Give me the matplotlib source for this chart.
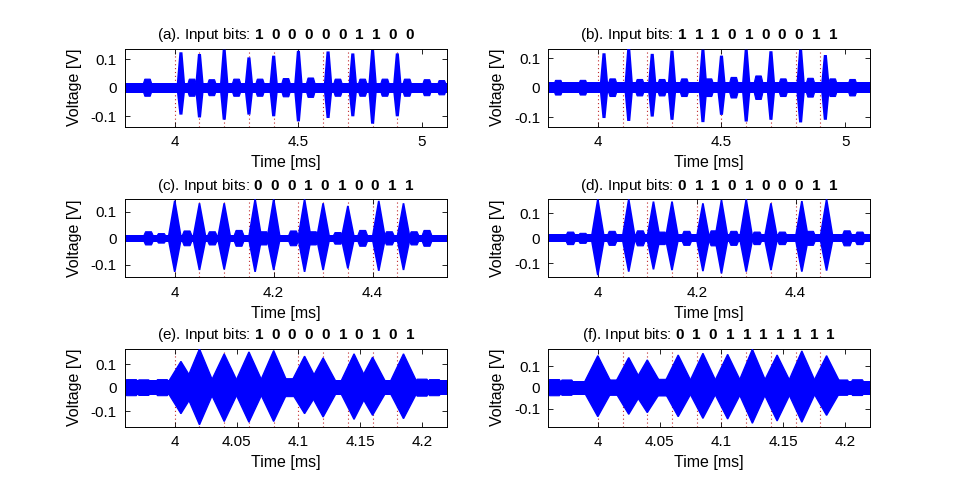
import numpy as np
import matplotlib
matplotlib.use('Agg')
import matplotlib.pyplot as plt

plt.rcParams['font.family'] = ['Liberation Sans', 'DejaVu Sans']
plt.rcParams['mathtext.fontset'] = 'custom'
plt.rcParams['mathtext.rm'] = 'Liberation Sans'
plt.rcParams['mathtext.bf'] = 'Liberation Sans:bold'
plt.rcParams['axes.unicode_minus'] = False

# ---------------- data ----------------
panel_labels = ['(a)', '(b)', '(c)', '(d)', '(e)', '(f)']
panel_bits = ['1000001100', '1110100011', '0001010011',
              '0110100011', '1000010101', '0101111111']

# burst (pulse) centre times [ms], positive and negative peaks [V]
a_t = [4.025, 4.1, 4.2, 4.3, 4.4, 4.5, 4.62, 4.72, 4.8, 4.9]
a_hi = [0.124, 0.118, 0.133, 0.106, 0.112, 0.129, 0.127, 0.120, 0.132, 0.120]
a_lo = [-0.094, -0.104, -0.112, -0.094, -0.100, -0.118, -0.106, -0.100, -0.126, -0.100]

b_t = [4.025, 4.125, 4.22, 4.3, 4.425, 4.5, 4.6, 4.7, 4.82, 4.92]
b_hi = [0.117, 0.132, 0.115, 0.126, 0.129, 0.109, 0.129, 0.124, 0.129, 0.111]
b_lo = [-0.103, -0.113, -0.098, -0.109, -0.117, -0.092, -0.115, -0.109, -0.118, -0.109]

c_t = [4.0, 4.05, 4.1, 4.1625, 4.2, 4.2625, 4.3, 4.35, 4.4125, 4.4625]
c_hi = [0.143, 0.133, 0.133, 0.148, 0.148, 0.148, 0.133, 0.123, 0.142, 0.133]
c_lo = [-0.127, -0.120, -0.118, -0.127, -0.120, -0.127, -0.120, -0.114, -0.123, -0.120]

d_t = [4.0, 4.0625, 4.1125, 4.15, 4.2125, 4.25, 4.3, 4.35, 4.4125, 4.4625]
d_hi = [0.156, 0.156, 0.147, 0.147, 0.140, 0.153, 0.156, 0.140, 0.149, 0.156]
d_lo = [-0.147, -0.133, -0.124, -0.127, -0.131, -0.140, -0.133, -0.127, -0.133, -0.129]

e_t = [4.005, 4.02, 4.04, 4.06, 4.08, 4.105, 4.12, 4.145, 4.16, 4.185]
e_hi = [0.111, 0.164, 0.143, 0.151, 0.157, 0.133, 0.126, 0.143, 0.129, 0.143]
e_lo = [-0.110, -0.157, -0.143, -0.146, -0.143, -0.110, -0.124, -0.134, -0.117, -0.131]

f_t = [4.0, 4.025, 4.04, 4.065, 4.085, 4.105, 4.125, 4.145, 4.165, 4.185]
f_hi = [0.150, 0.141, 0.130, 0.153, 0.161, 0.156, 0.180, 0.153, 0.172, 0.150]
f_lo = [-0.136, -0.125, -0.117, -0.136, -0.144, -0.147, -0.167, -0.156, -0.162, -0.130]

# small residual bumps between pulses: times [ms], amplitude [V]
a_bump_t = [3.89, 4.07, 4.15, 4.25, 4.345, 4.45, 4.55, 4.66, 4.76, 4.85, 4.94, 5.02, 5.08]
a_bump_a = [0.030, 0.030, 0.028, 0.030, 0.030, 0.032, 0.034, 0.030, 0.030, 0.030, 0.030, 0.028, 0.025]
b_bump_t = [3.84, 3.94, 4.06, 4.17, 4.26, 4.35, 4.45, 4.55, 4.65, 4.75, 4.86, 4.95, 5.03]
b_bump_a = [0.025, 0.025, 0.030, 0.028, 0.028, 0.030, 0.030, 0.035, 0.040, 0.030, 0.032, 0.030, 0.028]
c_bump_t = [3.947, 3.973, 4.025, 4.076, 4.13, 4.18, 4.24, 4.28, 4.33, 4.38, 4.434, 4.484, 4.51]
c_bump_a = [0.025, 0.018, 0.028, 0.025, 0.030, 0.025, 0.028, 0.025, 0.022, 0.030, 0.025, 0.025, 0.030]
d_bump_t = [3.945, 3.97, 4.029, 4.086, 4.13, 4.18, 4.235, 4.275, 4.322, 4.373, 4.43, 4.504, 4.53]
d_bump_a = [0.025, 0.020, 0.028, 0.030, 0.025, 0.028, 0.030, 0.028, 0.025, 0.025, 0.028, 0.030, 0.025]
e_bump_t = [3.965, 3.975, 3.99, 4.092, 4.2, 4.21]
e_bump_a = [0.034, 0.033, 0.034, 0.038, 0.036, 0.034]
f_bump_t = [3.965, 3.975, 4.012, 4.052, 4.198, 4.21]
f_bump_a = [0.038, 0.036, 0.036, 0.039, 0.036, 0.037]

# noise-floor half thickness [V]
floors = [0.018, 0.018, 0.013, 0.016, 0.031, 0.033]

xlims = [(3.8, 5.1), (3.8, 5.1), (3.9, 4.55), (3.9, 4.55), (3.96, 4.22), (3.96, 4.22)]
ylims = [0.137, 0.133, 0.148, 0.156, 0.165, 0.183]

# bit boundaries (dotted lines)
bounds_slow = [4.0, 4.1, 4.2, 4.3, 4.4, 4.5, 4.6, 4.7, 4.8, 4.9]
bounds_mid = [4.0, 4.05, 4.1, 4.15, 4.2, 4.25, 4.3, 4.35, 4.4, 4.45]
bounds_fast = [4.0, 4.02, 4.04, 4.06, 4.08, 4.1, 4.12, 4.14, 4.16, 4.18]

xticks_slow = [4, 4.5, 5]
xticklabels_slow = ['4', '4.5', '5']
xticks_mid = [4, 4.2, 4.4]
xticklabels_mid = ['4', '4.2', '4.4']
xticks_fast = [4, 4.05, 4.1, 4.15, 4.2]
xticklabels_fast = ['4', '4.05', '4.1', '4.15', '4.2']
yticks = [-0.1, 0, 0.1]
yticklabels = ['-0.1', '0', '0.1']

# ---------------- figure ----------------
pulses = [(a_t, a_hi, a_lo), (b_t, b_hi, b_lo), (c_t, c_hi, c_lo),
          (d_t, d_hi, d_lo), (e_t, e_hi, e_lo), (f_t, f_hi, f_lo)]
bumps = [(a_bump_t, a_bump_a), (b_bump_t, b_bump_a), (c_bump_t, c_bump_a),
         (d_bump_t, d_bump_a), (e_bump_t, e_bump_a), (f_bump_t, f_bump_a)]
bounds = [bounds_slow, bounds_slow, bounds_mid, bounds_mid, bounds_fast, bounds_fast]
xt = [(xticks_slow, xticklabels_slow)] * 2 + [(xticks_mid, xticklabels_mid)] * 2 + \
     [(xticks_fast, xticklabels_fast)] * 2
half_widths = [0.012, 0.012, 0.013, 0.013, 0.013, 0.013]
bump_widths = [0.022, 0.022, 0.012, 0.012, 0.008, 0.008]
edge_lw = [2.2, 2.2, 1.2, 1.2, 1.0, 1.0]

fig = plt.figure(figsize=(9.6, 5.0), dpi=100)
fig.patch.set_facecolor('white')

lefts = [0.1305, 0.5712]
bottoms = [0.7466, 0.4453, 0.1467]
width, height = 0.3349, 0.1560

blue = '#0000ff'
FS = 11
for i in range(6):
    row, col = divmod(i, 2)
    ax = fig.add_axes([lefts[col], bottoms[row], width, height])
    x0, x1 = xlims[i]
    yl = ylims[i]
    hw = half_widths[i]
    bw = bump_widths[i]
    fl = floors[i]

    for bx in bounds[i]:
        ax.axvline(bx, color='#c0282a', ls=(0, (1, 2.5)), lw=0.8, zorder=1)

    ax.fill_between([x0, x1], [-fl, -fl], [fl, fl], color=blue, lw=0, zorder=2)
    for bt, ba in zip(*bumps[i]):
        ax.fill([bt - bw, bt - bw / 2, bt + bw / 2, bt + bw, bt + bw / 2, bt - bw / 2],
                [0, ba, ba, 0, -ba, -ba],
                facecolor=blue, edgecolor=blue, lw=0.8, zorder=2)
    for pt, ph, pl in zip(*pulses[i]):
        ax.fill([pt - hw, pt, pt + hw, pt], [0, ph, 0, pl],
                facecolor=blue, edgecolor=blue, lw=edge_lw[i], zorder=3)

    ax.set_xlim(x0, x1)
    ax.set_ylim(-yl, yl)
    ax.set_xticks(xt[i][0])
    ax.set_xticklabels(xt[i][1])
    ax.set_yticks(yticks)
    ax.set_yticklabels(yticklabels)
    ax.tick_params(direction='in', top=True, right=True, length=3.5,
                   width=0.6, labelsize=FS, pad=6)
    for s in ax.spines.values():
        s.set_linewidth(0.7)

    ax.set_xlabel('Time [ms]', fontsize=11.5, va='center')
    ax.xaxis.set_label_coords(0.5, -0.46)
    ax.set_ylabel('Voltage [V]', fontsize=11.5, va='center')
    ax.yaxis.set_label_coords(-0.157, 0.5)

    bits = r'\ \:'.join(panel_bits[i])
    ax.set_title(panel_labels[i] + '. Input bits: ' + r'$\mathbf{' + bits + '}$',
                 fontsize=FS, pad=7)

fig.savefig('out.png', dpi=100, facecolor='white')
